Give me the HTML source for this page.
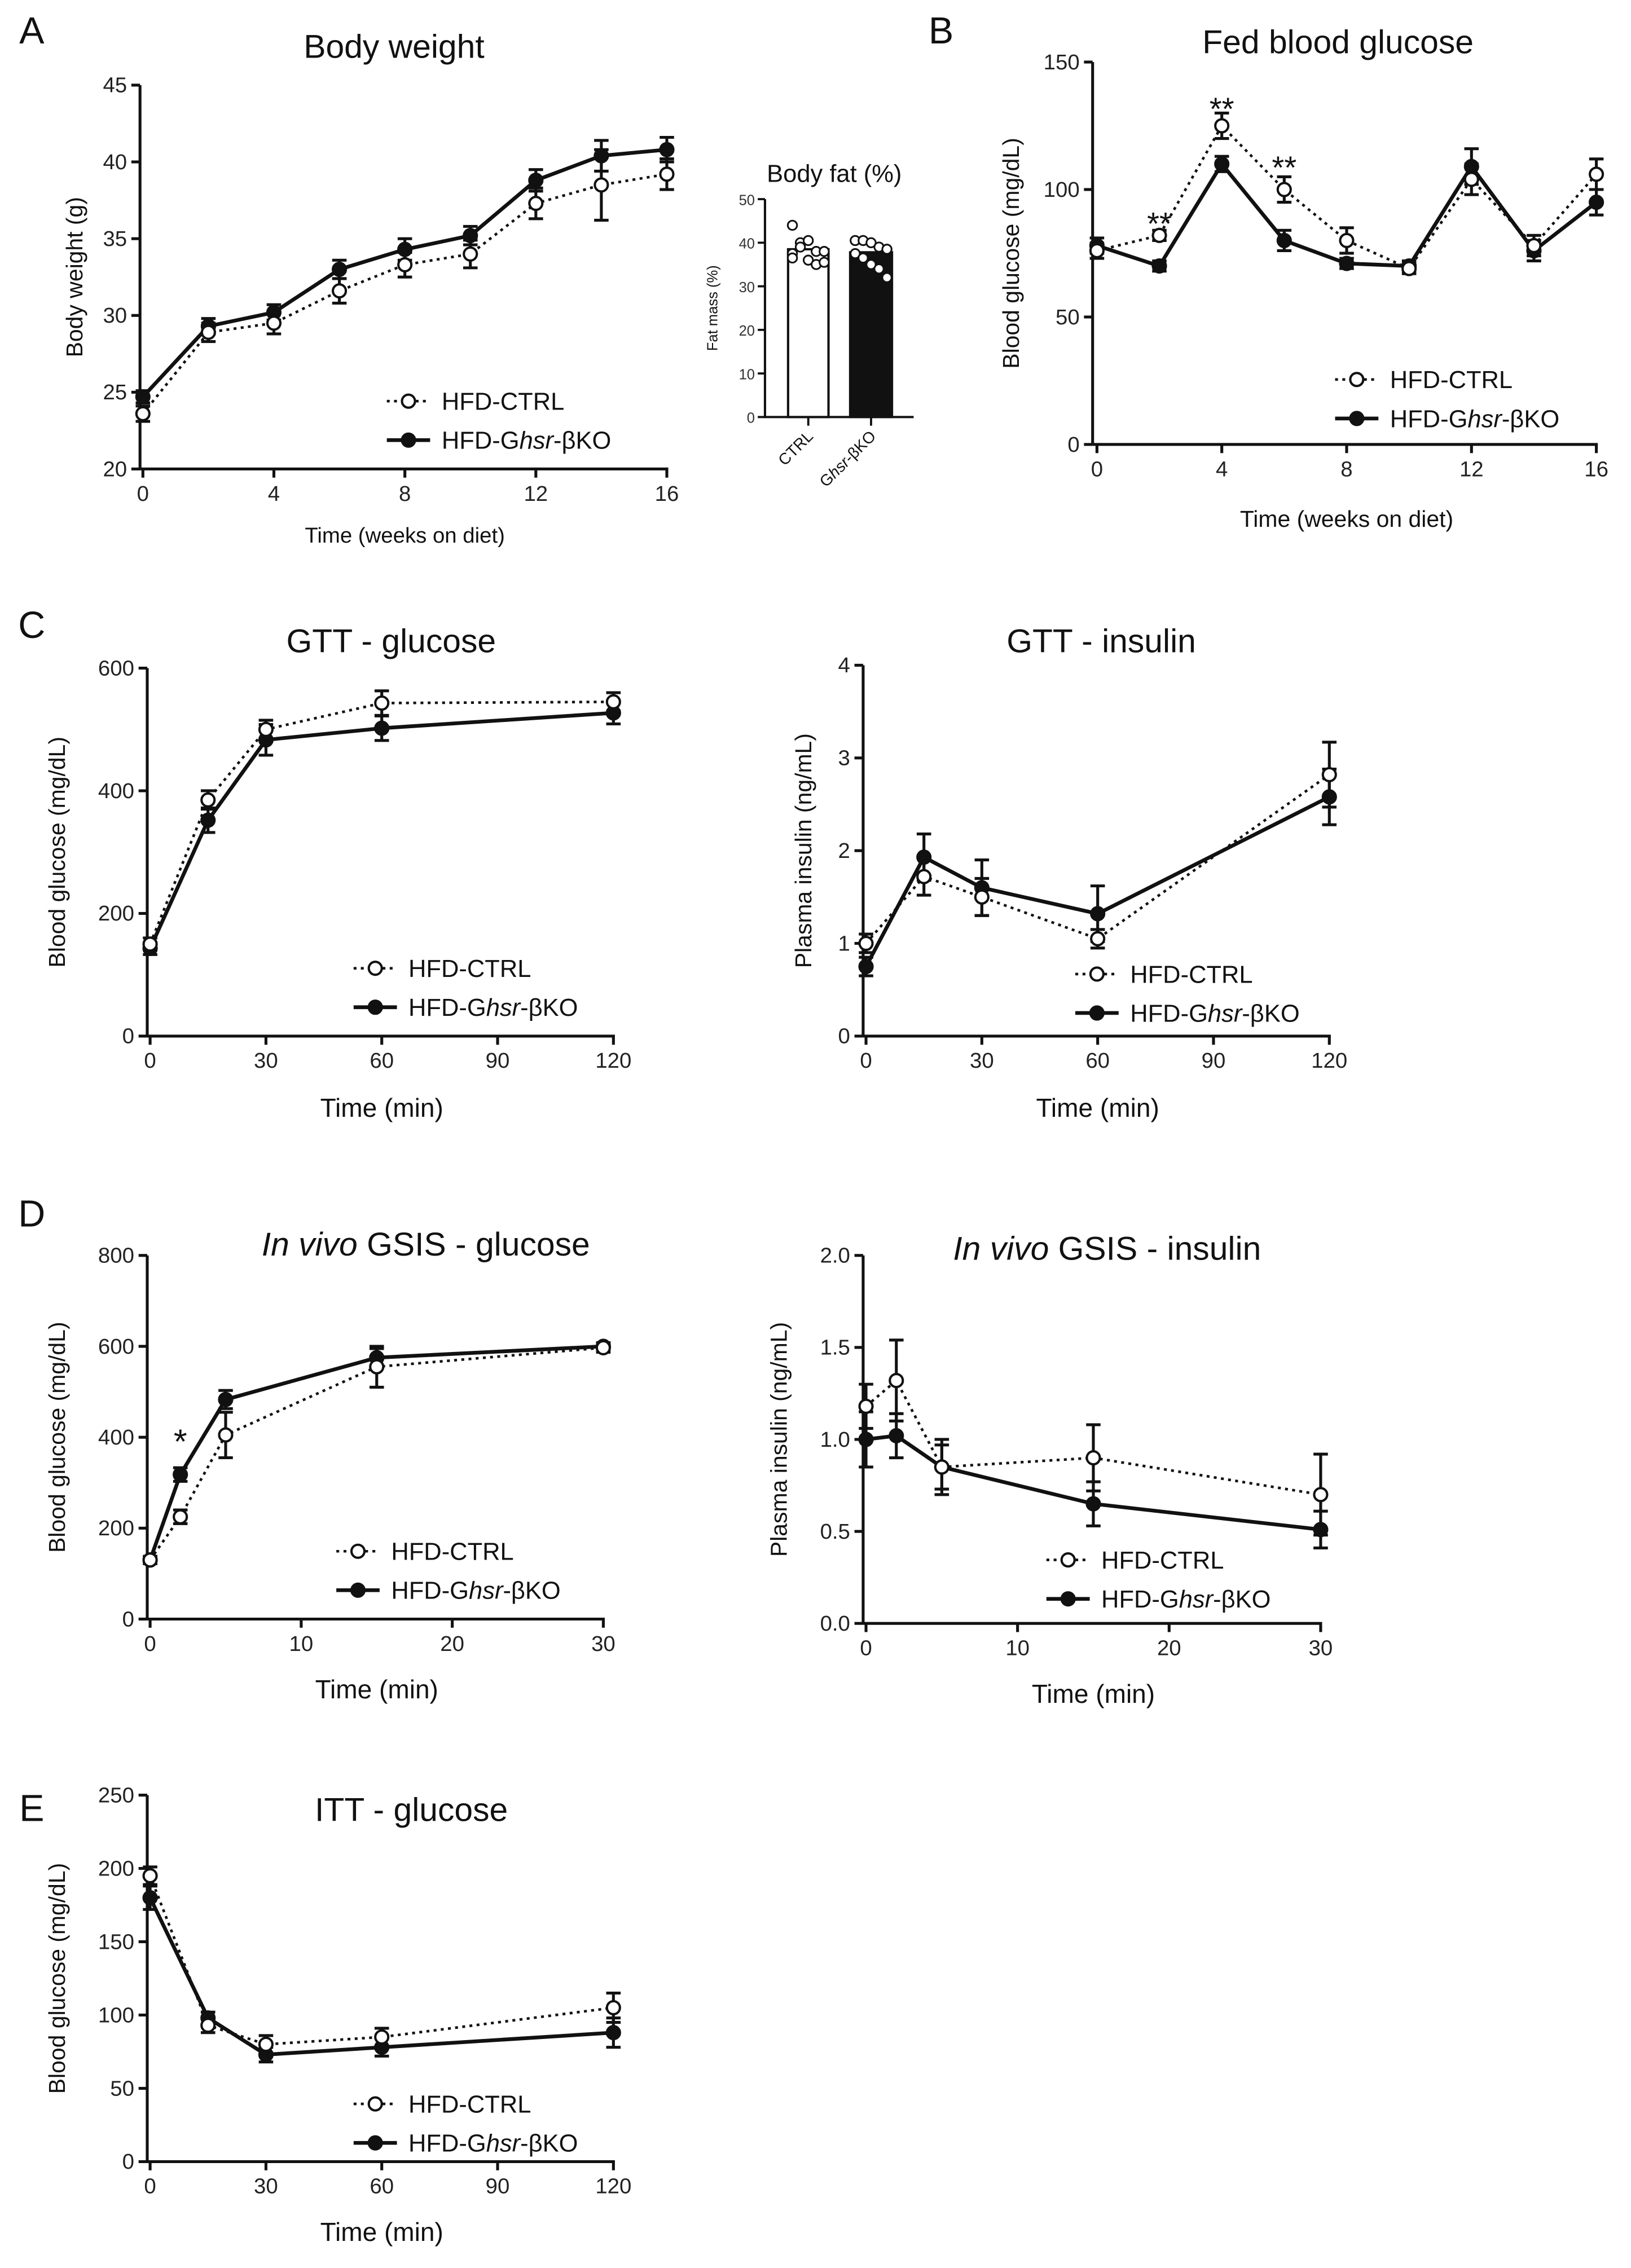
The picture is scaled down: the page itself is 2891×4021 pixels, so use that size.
<!DOCTYPE html>
<html><head><meta charset="utf-8">
<style>
html,body{margin:0;padding:0;background:#fff;}
svg{display:block;font-family:"Liberation Sans",Arial,sans-serif;}
</style></head>
<body>
<svg id="fig" xmlns="http://www.w3.org/2000/svg" width="2891" height="4021" viewBox="0 0 1130 1571.7">
<rect width="1130" height="1571.7" fill="#fff"/>
</svg>
<script>
// ---- data ----
const bwWeeks=[0,2,4,6,8,10,12,14,16];
const bwCtrl=[23.6,28.9,29.5,31.6,33.3,34.0,37.3,38.5,39.2];
const bwCtrlErr=[0.5,0.6,0.7,0.8,0.8,0.9,1.0,2.3,1.0];
const bwKo=[24.7,29.3,30.2,33.0,34.3,35.2,38.8,40.4,40.8];
const bwKoErr=[0.4,0.5,0.5,0.6,0.7,0.6,0.7,1.0,0.8];
const bwTicksY=[20,25,30,35,40,45];
const bwTicksX=[0,4,8,12,16];

const fatCats=["CTRL","Ghsr-βKO"];
const fatMeans=[38.5,37.8];
const fatCtrlPts=[44,40,40.5,38,38,37.5,39,36,35,35.5,36.5];
const fatKoPts=[40.5,40.5,40,39,38.5,37.5,36.5,35,34,32];
const fatTicksY=[0,10,20,30,40,50];

const fedWeeks=[0,2,4,6,8,10,12,14,16];
const fedCtrl=[76,82,125,100,80,69,104,78,106];
const fedCtrlErr=[3,2,5,5,5,2,6,4,6];
const fedKo=[78,70,110,80,71,70,109,76,95];
const fedKoErr=[3,2,3,4,2,2,7,4,5];
const fedTicksY=[0,50,100,150];
const fedTicksX=[0,4,8,12,16];
const fedStarWeeks=[2,4,6];
const fedStarValues=[88,133,110];

const gttTime=[0,15,30,60,120];
const gttGluCtrl=[150,385,500,543,545];
const gttGluCtrlErr=[10,15,15,20,15];
const gttGluKo=[143,352,483,502,527];
const gttGluKoErr=[10,20,25,20,18];
const gttGluTicksY=[0,200,400,600];
const gttInsCtrl=[1.0,1.72,1.5,1.05,2.82];
const gttInsCtrlErr=[0.1,0.2,0.2,0.1,0.35];
const gttInsKo=[0.75,1.93,1.6,1.32,2.58];
const gttInsKoErr=[0.1,0.25,0.3,0.3,0.3];
const gttInsTicksY=[0,1,2,3,4];
const timeTicks120=[0,30,60,90,120];

const gsisTime=[0,2,5,15,30];
const gsisGluCtrl=[130,225,405,555,597];
const gsisGluCtrlErr=[8,15,50,45,10];
const gsisGluKo=[130,318,483,575,600];
const gsisGluKoErr=[8,15,20,20,8];
const gsisGluTicksY=[0,200,400,600,800];
const gsisInsCtrl=[1.18,1.32,0.85,0.9,0.7];
const gsisInsCtrlErr=[0.12,0.22,0.12,0.18,0.22];
const gsisInsKo=[1.0,1.02,0.85,0.65,0.51];
const gsisInsKoErr=[0.15,0.12,0.15,0.12,0.1];
const gsisInsTicksY=[0,0.5,1.0,1.5,2.0];
const timeTicks30=[0,10,20,30];

const ittTime=[0,15,30,60,120];
const ittCtrl=[195,93,80,85,105];
const ittCtrlErr=[6,5,6,6,10];
const ittKo=[180,98,73,78,88];
const ittKoErr=[8,4,5,6,10];
const ittTicksY=[0,50,100,150,200,250];

// ---- drawing ----
const NS="http://www.w3.org/2000/svg";
const svg=document.getElementById('fig');
function el(tag,attrs,parent,text){
  const e=document.createElementNS(NS,tag);
  for(const k in attrs)e.setAttribute(k,attrs[k]);
  if(text!==undefined)e.textContent=text;
  (parent||svg).appendChild(e);return e;
}
function txt(x,y,s,size,anchor,parent,extra){
  const t=el('text',Object.assign({x:x,y:y,'font-size':size,'text-anchor':anchor||'middle',fill:'#111'},extra||{}),parent);
  t.innerHTML=s;return t;
}
function linePlot(o){
  const g=el('g',{});
  
  
  const sx=v=>o.x0+(v-o.xmin)/(o.xmax-o.xmin)*(o.x1-o.x0);
  const sy=v=>o.y0+(v-o.ymin)/(o.ymax-o.ymin)*(o.y1-o.y0);
  const ax=el('path',{d:`M${o.ax} ${sy(o.ymax)} V${sy(o.ymin)}`,stroke:'#111','stroke-width':2,fill:'none'},g);
  
  const axX=el('path',{d:`M${o.ax} ${o.ay} H${sx(o.xmax)+1}`,stroke:'#111','stroke-width':2,fill:'none'},g);
  
  o.yticks.forEach((v,i)=>{
    el('line',{x1:o.ax-6,x2:o.ax,y1:sy(v),y2:sy(v),stroke:'#111','stroke-width':2},g);
    const t=txt(o.ax-9,sy(v)+5,o.ylabels?o.ylabels[i]:String(v),15,'end',g,{fill:'#222'});
    
  });
  o.xticks.forEach(v=>{
    el('line',{x1:sx(v),x2:sx(v),y1:o.ay,y2:o.ay+6,stroke:'#111','stroke-width':2},g);
    const t=txt(sx(v),o.ay+22,String(v),15,'middle',g,{fill:'#222'});
    
  });
  const series=[{y:o.ko,e:o.koErr,fill:'#111',dash:null,name:'series-ko'},{y:o.ctrl,e:o.ctrlErr,fill:'#fff',dash:'2 3',name:'series-ctrl'}];
  series.forEach(s=>{
    const sg=el('g',{},g);
    
    const pts=o.xs.map((x,i)=>sx(x)+','+sy(s.y[i])).join(' ');
    const pl=el('polyline',{points:pts,fill:'none',stroke:'#111','stroke-width':s.dash?1.8:2.6},sg);
    if(s.dash)pl.setAttribute('stroke-dasharray',s.dash);
    o.xs.forEach((x,i)=>{
      const cx=sx(x),yt=sy(s.y[i]+s.e[i]),yb=sy(s.y[i]-s.e[i]);
      el('path',{d:`M${cx} ${yt} V${yb} M${cx-5} ${yt} H${cx+5} M${cx-5} ${yb} H${cx+5}`,stroke:'#111','stroke-width':2,fill:'none'},sg);
      const c=el('circle',{cx:cx,cy:sy(s.y[i]),r:4.5,fill:s.fill,stroke:'#111','stroke-width':1.6},sg);
      
    });
  });
  const tt=txt(o.tx,o.ty,o.title,23,'middle',g);
  const xl=txt((o.x0+o.x1)/2,o.xly,o.xlabel,o.xlsize||18,'middle',g);
  const ym=(sy(o.ymin)+sy(o.ymax))/2;
  const yl=txt(o.ylx,ym,o.ylabel,16,'middle',g,{transform:`rotate(-90 ${o.ylx} ${ym})`});
  
  const lg=el('g',{},g);
  [[o.lx,o.ly,'#fff',true,'HFD-CTRL'],[o.lx,o.ly+27,'#111',false,'HFD-G<tspan font-style="italic">hsr</tspan>-βKO']].forEach(r=>{
    const e=el('g',{},lg);
    const l=el('line',{x1:r[0],x2:r[0]+30,y1:r[1],y2:r[1],stroke:'#111','stroke-width':r[3]?1.8:2.6},e);
    if(r[3])l.setAttribute('stroke-dasharray','2 3');
    el('circle',{cx:r[0]+15,cy:r[1],r:4.5,fill:r[2],stroke:'#111','stroke-width':1.6},e);
    txt(r[0]+38,r[1]+6,r[4],17,'start',e);
  });
  return {g,sx,sy};
}

[['A',22,30],['B',652,30],['C',22,442],['D',22,850],['E',22,1262]].forEach(p=>{
  const t=txt(p[1],p[2],p[0],26,'middle');
  
});

linePlot({name:'body-weight-chart',xs:bwWeeks,ctrl:bwCtrl,ctrlErr:bwCtrlErr,ko:bwKo,koErr:bwKoErr,
 xmin:0,xmax:16,x0:99,x1:462,ymin:20,ymax:45,y0:325,y1:59,ax:97,ay:325,yticks:bwTicksY,xticks:bwTicksX,
 title:'Body weight',tx:273,ty:40,xlabel:'Time (weeks on diet)',xly:376,xlsize:15,ylabel:'Body weight (g)',ylx:57,lx:268,ly:278});

(function(){
  const g=el('g',{});
  const ax=530,y0=289,y1=138,sy=v=>y0+(v/50)*(y1-y0);
  el('path',{d:`M${ax} ${y1} V${y0} H633`,stroke:'#111','stroke-width':1.6,fill:'none'},g);
  fatTicksY.forEach(v=>{el('line',{x1:ax-5,x2:ax,y1:sy(v),y2:sy(v),stroke:'#111','stroke-width':1.5},g);
    txt(ax-7,sy(v)+4,String(v),10,'end',g,{fill:'#333'});});
  const bx=[[546,574],[589,618]];
  fatMeans.forEach((m,i)=>{
    const r=el('rect',{x:bx[i][0],y:sy(m),width:bx[i][1]-bx[i][0],height:y0-sy(m),fill:i?'#111':'#fff',stroke:'#111','stroke-width':1.6},g);
    
    const cx=(bx[i][0]+bx[i][1])/2;
    el('line',{x1:cx,x2:cx,y1:y0,y2:y0+6,stroke:'#111','stroke-width':1.5},g);
    const lab=i?'G<tspan font-style="italic">hsr</tspan>-βKO':'CTRL';
    txt(cx+4,y0+14,lab,11,'end',g,{transform:`rotate(-45 ${cx+4} ${y0+14})`});
  });
  [fatCtrlPts,fatKoPts].forEach((pts,i)=>{
    pts.forEach((v,j)=>{
      const cx=(bx[i][0]+bx[i][1])/2+((j%5)-2)*5.5;
      const c=el('circle',{cx:cx,cy:sy(v),r:3.2,fill:'#fff',stroke:'#111','stroke-width':1.2},g);
      
    });
  });
  txt(578,126,'Body fat (%)',17,'middle',g);
  txt(497,(y0+y1)/2,'Fat mass (%)',10,'middle',g,{transform:`rotate(-90 497 ${(y0+y1)/2})`});
})();

const B=linePlot({name:'fed-glucose-chart',xs:fedWeeks,ctrl:fedCtrl,ctrlErr:fedCtrlErr,ko:fedKo,koErr:fedKoErr,
 xmin:0,xmax:16,x0:760,x1:1106,ymin:0,ymax:150,y0:308,y1:43,ax:757,ay:308,yticks:fedTicksY,xticks:fedTicksX,
 title:'Fed blood glucose',tx:927,ty:37,xlabel:'Time (weeks on diet)',xly:365,xlsize:16,ylabel:'Blood glucose (mg/dL)',ylx:706,lx:925,ly:263});
fedStarWeeks.forEach((w,i)=>{
  const t=txt(B.sx(w),B.sy(fedStarValues[i])+10,'**',22,'middle',B.g);
});

linePlot({name:'gtt-glucose-chart',xs:gttTime,ctrl:gttGluCtrl,ctrlErr:gttGluCtrlErr,ko:gttGluKo,koErr:gttGluKoErr,
 xmin:0,xmax:120,x0:104,x1:425,ymin:0,ymax:600,y0:718,y1:463,ax:102,ay:718,yticks:gttGluTicksY,xticks:timeTicks120,
 title:'GTT - glucose',tx:271,ty:452,xlabel:'Time (min)',xly:774,ylabel:'Blood glucose (mg/dL)',ylx:45,lx:245,ly:671});

linePlot({name:'gtt-insulin-chart',xs:gttTime,ctrl:gttInsCtrl,ctrlErr:gttInsCtrlErr,ko:gttInsKo,koErr:gttInsKoErr,
 xmin:0,xmax:120,x0:600,x1:921,ymin:0,ymax:4,y0:718,y1:461,ax:598,ay:718,yticks:gttInsTicksY,xticks:timeTicks120,
 title:'GTT - insulin',tx:763,ty:452,xlabel:'Time (min)',xly:774,ylabel:'Plasma insulin (ng/mL)',ylx:562,lx:745,ly:675});

const D1=linePlot({name:'gsis-glucose-chart',xs:gsisTime,ctrl:gsisGluCtrl,ctrlErr:gsisGluCtrlErr,ko:gsisGluKo,koErr:gsisGluKoErr,
 xmin:0,xmax:30,x0:104,x1:418,ymin:0,ymax:800,y0:1122,y1:870,ax:102,ay:1122,yticks:gsisGluTicksY,xticks:timeTicks30,
 title:'<tspan font-style="italic">In vivo</tspan> GSIS - glucose',tx:295,ty:870,xlabel:'Time (min)',xly:1177,ylabel:'Blood glucose (mg/dL)',ylx:45,lx:233,ly:1075});
{const t=txt(D1.sx(2),1007,'*',24,'middle',D1.g);}

linePlot({name:'gsis-insulin-chart',xs:gsisTime,ctrl:gsisInsCtrl,ctrlErr:gsisInsCtrlErr,ko:gsisInsKo,koErr:gsisInsKoErr,
 xmin:0,xmax:30,x0:600,x1:915,ymin:0,ymax:2,y0:1125,y1:870,ax:598,ay:1125,yticks:gsisInsTicksY,ylabels:['0.0','0.5','1.0','1.5','2.0'],xticks:timeTicks30,
 title:'<tspan font-style="italic">In vivo</tspan> GSIS - insulin',tx:767,ty:873,xlabel:'Time (min)',xly:1180,ylabel:'Plasma insulin (ng/mL)',ylx:545,lx:725,ly:1081});

linePlot({name:'itt-glucose-chart',xs:ittTime,ctrl:ittCtrl,ctrlErr:ittCtrlErr,ko:ittKo,koErr:ittKoErr,
 xmin:0,xmax:120,x0:104,x1:425,ymin:0,ymax:250,y0:1498,y1:1244,ax:102,ay:1498,yticks:ittTicksY,xticks:timeTicks120,
 title:'ITT - glucose',tx:285,ty:1262,xlabel:'Time (min)',xly:1553,ylabel:'Blood glucose (mg/dL)',ylx:45,lx:245,ly:1458});
</script>
</body></html>
